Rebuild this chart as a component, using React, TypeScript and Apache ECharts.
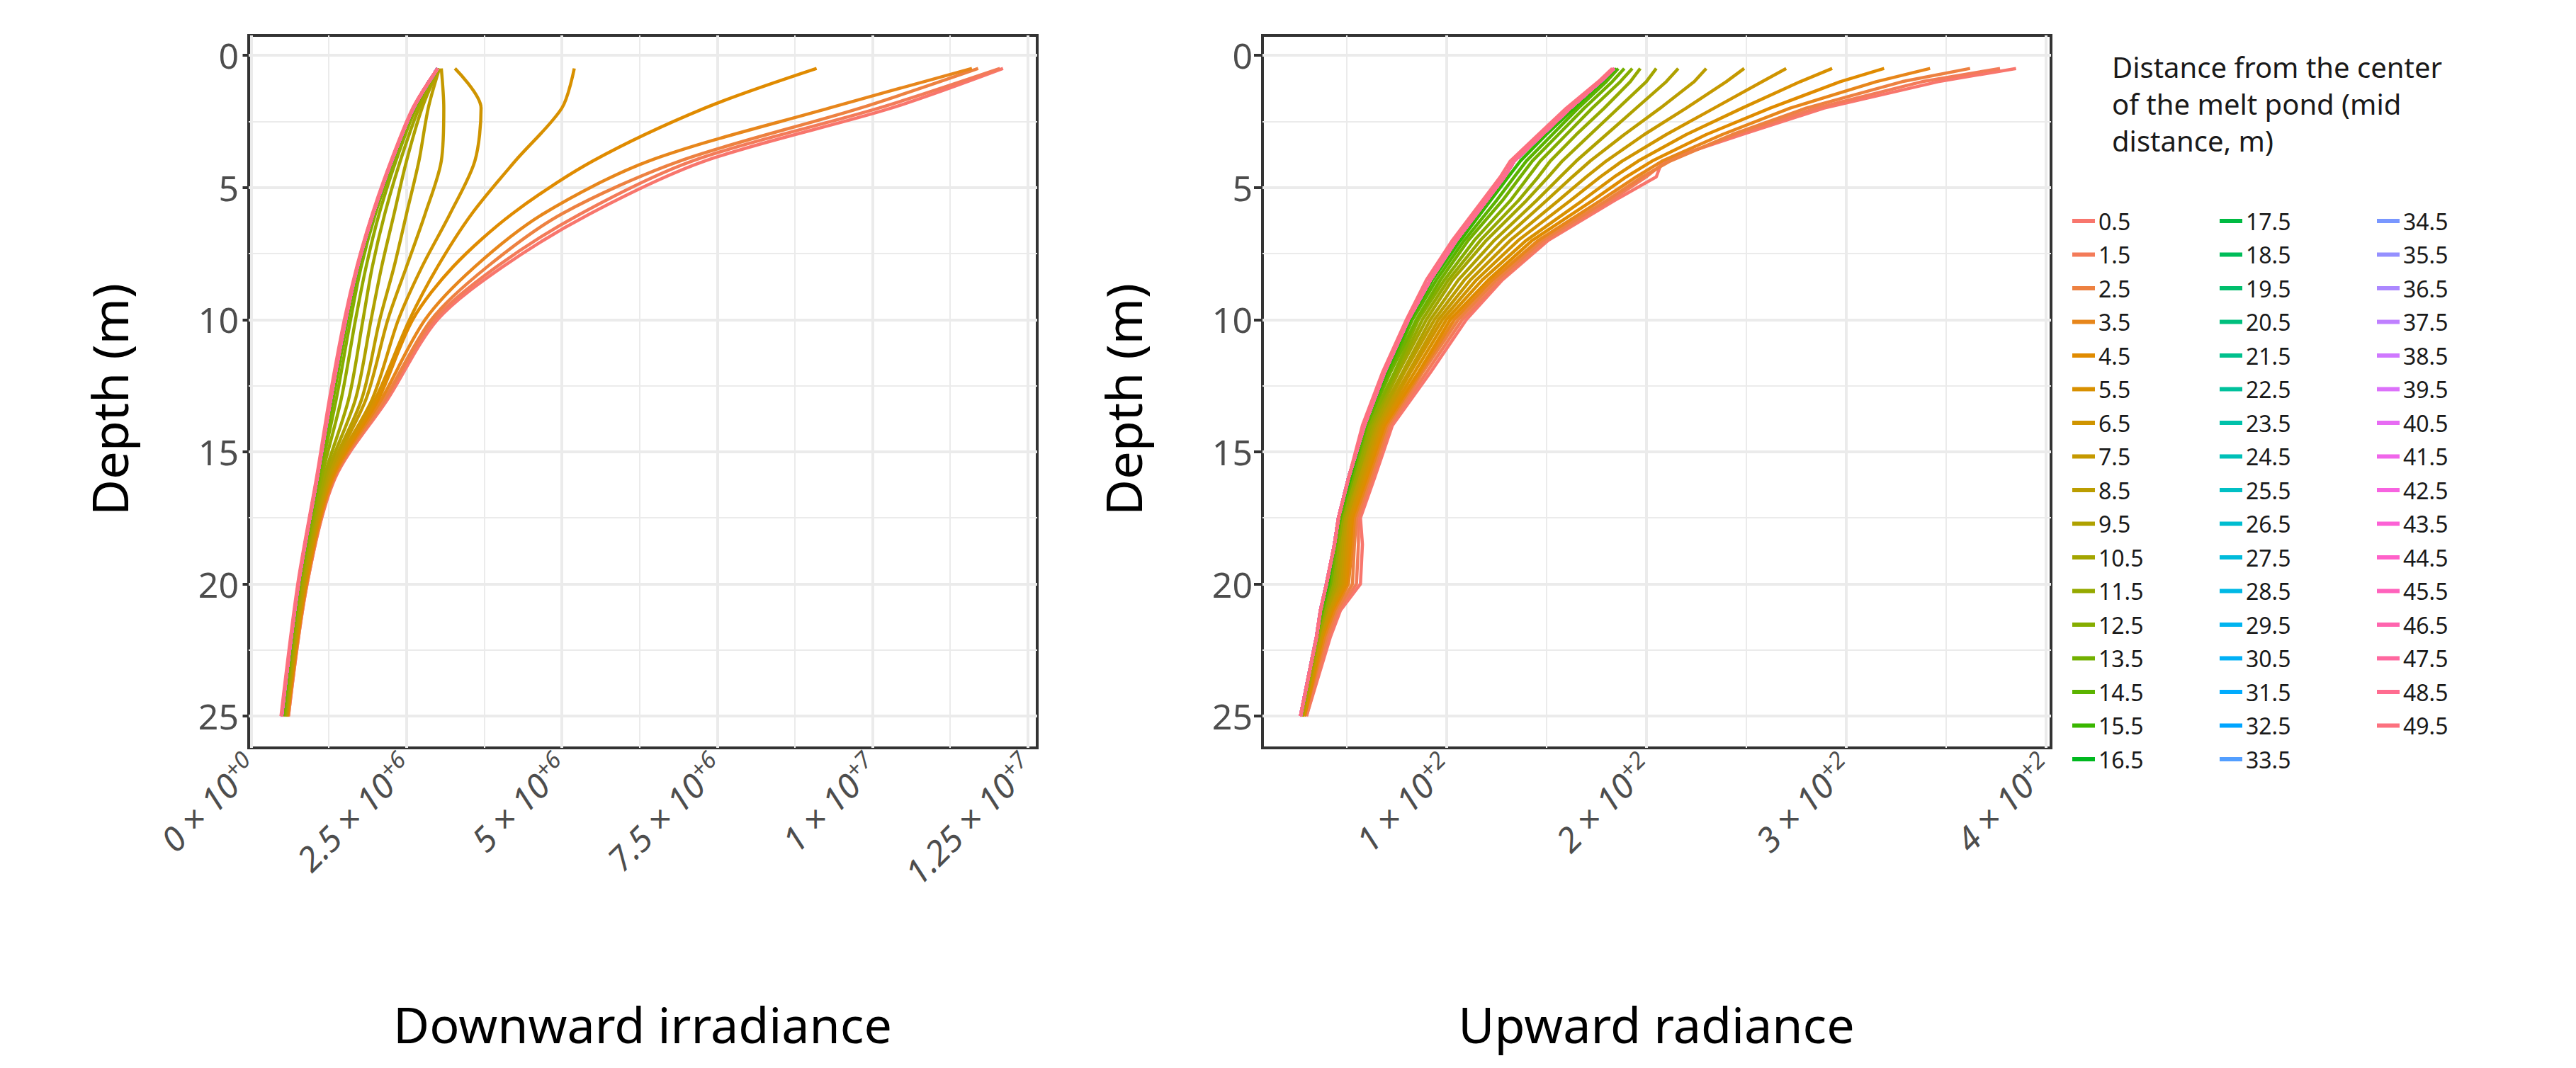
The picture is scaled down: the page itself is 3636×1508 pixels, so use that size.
import React, { useEffect, useRef } from "react";
import * as echarts from "echarts";

const DEPTHS_DOWN = [0.5, 2, 4, 6, 8, 10, 13, 16, 20, 25];
const DEPTHS_UP = [0.5, 1, 2, 3, 4, 4.6, 5.5, 7, 8.5, 10, 12, 14, 16, 17.5, 18.5, 20, 21, 22, 25];
const DISTANCES = Array.from({ length: 50 }, (_, i) => (i + 0.5).toFixed(1));

// Downward irradiance (units of 1e6)
const DOWN_0_5 = [12.1, 10.3, 7.3, 5.45, 4.05, 3.0, 2.2, 1.35, 0.9, 0.6];
const DOWN_1_5 = [12.05, 10.1, 7.1, 5.3, 3.95, 2.95, 2.17, 1.34, 0.9, 0.6];
const DOWN_2_5 = [11.7, 9.8, 6.9, 5.0, 3.8, 2.9, 2.15, 1.33, 0.89, 0.59];
const DOWN_3_5 = [11.6, 9.3, 6.4, 4.7, 3.6, 2.8, 2.1, 1.32, 0.89, 0.59];
const DOWN_4_5 = [9.1, 7.3, 5.5, 4.2, 3.25, 2.6, 2.05, 1.3, 0.88, 0.58];
const DOWN_5_5 = [5.2, 5.0, 4.25, 3.55, 3.0, 2.55, 2.0, 1.28, 0.87, 0.58];
const DOWN_6_5 = [3.28, 3.7, 3.6, 3.2, 2.75, 2.37, 1.95, 1.27, 0.86, 0.57];
const DOWN_7_5 = [3.06, 3.1, 3.06, 2.8, 2.5, 2.2, 1.85, 1.25, 0.85, 0.56];
const DOWN_8_5 = [3.03, 2.85, 2.7, 2.5, 2.3, 2.07, 1.78, 1.23, 0.84, 0.56];
const DOWN_9_5 = [3.02, 2.75, 2.5, 2.3, 2.1, 1.93, 1.68, 1.2, 0.82, 0.55];
const DOWN_10_5 = [3.01, 2.7, 2.4, 2.15, 1.95, 1.8, 1.57, 1.17, 0.8, 0.54];
const DOWN_11_5 = [3.0, 2.65, 2.33, 2.06, 1.85, 1.68, 1.45, 1.13, 0.79, 0.53];
const DOWN_12_5 = [3.0, 2.63, 2.29, 2.0, 1.77, 1.6, 1.37, 1.1, 0.78, 0.52];
const DOWN_13_5 = [3.0, 2.62, 2.27, 1.97, 1.73, 1.55, 1.32, 1.08, 0.77, 0.51];
const DOWN_REST = [3.0, 2.61, 2.26, 1.96, 1.71, 1.52, 1.28, 1.06, 0.76, 0.49];
const DOWN_49_5 = [3.0, 2.6, 2.25, 1.95, 1.7, 1.5, 1.26, 1.05, 0.75, 0.48];
const DOWN_LIST = [DOWN_0_5, DOWN_1_5, DOWN_2_5, DOWN_3_5, DOWN_4_5, DOWN_5_5, DOWN_6_5, DOWN_7_5, DOWN_8_5, DOWN_9_5, DOWN_10_5, DOWN_11_5, DOWN_12_5, DOWN_13_5];

// Upward radiance
const UP_0_5 = [385, 346, 289, 248, 208, 205, 184, 151, 128, 110, 92, 73, 64, 57, 58, 57, 47, 42, 30];
const UP_1_5 = [377, 338, 285, 245, 210, 200, 182, 150, 127, 108, 90, 72, 63, 56, 56, 55, 46, 41, 30];
const UP_2_5 = [362, 328, 280, 243, 212, 198, 180, 148, 125, 106, 88, 71, 62, 55, 54, 53, 45, 40, 29];
const UP_3_5 = [342, 315, 272, 238, 208, 195, 177, 146, 123, 104, 87, 70, 61, 54, 53, 51, 44, 39, 29];
const UP_4_5 = [319, 297, 262, 230, 203, 190, 173, 143, 121, 102, 86, 69, 60, 53, 52, 50, 43, 38, 29];
const UP_5_5 = [293, 277, 248, 220, 196, 184, 168, 140, 118, 100, 84, 68, 59, 52, 51, 49, 42, 38, 28];
const UP_6_5 = [270, 258, 234, 210, 188, 177, 162, 136, 115, 98, 82, 67, 58, 51, 50, 48, 42, 37, 28];
const UP_7_5 = [249, 240, 220, 199, 180, 170, 156, 132, 112, 96, 81, 66, 57, 50, 49, 47, 41, 37, 28];
const UP_8_5 = [230, 224, 207, 189, 172, 163, 150, 128, 109, 94, 79, 65, 56, 50, 48, 46, 40, 36, 28];
const UP_9_5 = [216, 210, 195, 180, 165, 157, 145, 124, 106, 92, 78, 64, 55, 49, 47, 45, 40, 36, 28];
const UP_10_5 = [205, 200, 186, 172, 158, 151, 140, 120, 103, 90, 76, 63, 55, 48, 46, 44, 39, 36, 27];
const UP_11_5 = [197, 192, 179, 165, 152, 146, 136, 117, 101, 88, 75, 62, 54, 48, 46, 43, 39, 35, 27];
const UP_12_5 = [193, 187, 173, 160, 147, 141, 132, 114, 99, 86, 74, 61, 53, 47, 45, 42, 38, 35, 27];
const UP_13_5 = [189, 183, 169, 156, 143, 137, 128, 111, 97, 85, 72, 60, 53, 47, 45, 42, 38, 35, 27];
const UP_14_5 = [186, 180, 166, 153, 140, 134, 125, 109, 95, 83, 71, 60, 52, 47, 44, 41, 38, 35, 27];
const UP_15_5 = [185, 178, 164, 150, 137, 131, 122, 107, 93, 82, 70, 59, 52, 46, 44, 41, 37, 35, 27];
const UP_REST = [184, 177, 162, 148, 134, 129, 120, 105, 92, 81, 69, 59, 51, 46, 44, 40, 37, 35, 27];
const UP_49_5 = [183, 176, 160, 146, 132, 127, 118, 103, 90, 80, 68, 58, 51, 46, 44, 40, 37, 35, 27];
const UP_LIST = [UP_0_5, UP_1_5, UP_2_5, UP_3_5, UP_4_5, UP_5_5, UP_6_5, UP_7_5, UP_8_5, UP_9_5, UP_10_5, UP_11_5, UP_12_5, UP_13_5, UP_14_5, UP_15_5];

const DOWN_TICKS = [0, 2.5, 5, 7.5, 10, 12.5];
const DOWN_LABELS = ["0 × 10|+0", "2.5 × 10|+6", "5 × 10|+6", "7.5 × 10|+6", "1 × 10|+7", "1.25 × 10|+7"];
const DOWN_MINOR = [1.25, 3.75, 6.25, 8.75, 11.25];
const UP_TICKS = [100, 200, 300, 400];
const UP_LABELS = ["1 × 10|+2", "2 × 10|+2", "3 × 10|+2", "4 × 10|+2"];
const UP_MINOR = [50, 150, 250, 350];
const DEPTH_TICKS = [0, 5, 10, 15, 20, 25];
const DEPTH_MINOR = [2.5, 7.5, 12.5, 17.5, 22.5];

function hcl(h: number, c = 100, l = 65) {
  const hr = (h * Math.PI) / 180;
  const U = c * Math.cos(hr), V = c * Math.sin(hr);
  const Xn = 95.047, Yn = 100, Zn = 108.883;
  const un = (4 * Xn) / (Xn + 15 * Yn + 3 * Zn), vn = (9 * Yn) / (Xn + 15 * Yn + 3 * Zn);
  const Y = Yn * Math.pow((l + 16) / 116, 3);
  const u = U / (13 * l) + un, v = V / (13 * l) + vn;
  const X = (9 * Y * u) / (4 * v);
  const Z = -X / 3 - 5 * Y + (3 * Y) / v;
  const x = X / 100, y = Y / 100, z = Z / 100;
  const lin = [
    3.2404542 * x - 1.5371385 * y - 0.4985314 * z,
    -0.969266 * x + 1.8760108 * y + 0.041556 * z,
    0.0556434 * x - 0.2040259 * y + 1.0572252 * z,
  ];
  const g = lin.map((t) => {
    const s = t <= 0.0031308 ? 12.92 * t : 1.055 * Math.pow(t, 1 / 2.4) - 0.055;
    return Math.round(Math.max(0, Math.min(1, s)) * 255);
  });
  return `rgb(${g[0]},${g[1]},${g[2]})`;
}
const COLORS = DISTANCES.map((_, i) => hcl(15 + (i * 360) / 50));

const FONT = "'Noto Sans', 'Open Sans', sans-serif";

function gridLines(idx: number, major: number[], minor: number[]) {
  const data: any[] = [];
  major.forEach((v) => data.push({ xAxis: v, lineStyle: { width: 4 } }));
  minor.forEach((v) => data.push({ xAxis: v, lineStyle: { width: 2 } }));
  DEPTH_TICKS.forEach((v) => data.push({ yAxis: v, lineStyle: { width: 4 } }));
  DEPTH_MINOR.forEach((v) => data.push({ yAxis: v, lineStyle: { width: 2 } }));
  return {
    type: "line", name: "_grid" + idx, xAxisIndex: idx, yAxisIndex: idx, data: [], silent: true, z: 0, zlevel: 0,
    markLine: { silent: true, symbol: ["none", "none"], label: { show: false }, lineStyle: { color: "#ebebeb", type: "solid" }, emphasis: { disabled: true }, data, animation: false },
  };
}

function xAxis(gridIndex: number, min: number, max: number, ticks: number[], labels: string[]) {
  return {
    type: "value", gridIndex, min, max,
    axisLine: { show: false },
    splitLine: { show: false },
    axisTick: { show: true, customValues: ticks, length: 12, lineStyle: { color: "#333", width: 4 } },
    axisLabel: {
      customValues: ticks, rotate: 45, margin: 18,
      formatter: (v: number) => {
        const s = labels[ticks.indexOf(v)] || "";
        const [a, b] = s.split("|");
        return `{a|${a}}{b|${b}}`;
      },
      rich: {
        a: { fontSize: 48, color: "#4d4d4d", fontFamily: FONT, fontStyle: "italic" },
        b: { fontSize: 33, color: "#4d4d4d", fontFamily: FONT, fontStyle: "italic", verticalAlign: "top", padding: [0, 0, 22, 0] },
      },
    },
  };
}
function yAxis(gridIndex: number) {
  return {
    type: "value", gridIndex, min: -0.75, max: 26.2, inverse: true,
    axisLine: { show: false }, splitLine: { show: false },
    axisTick: { show: true, customValues: DEPTH_TICKS, length: 12, lineStyle: { color: "#333", width: 4 } },
    axisLabel: { customValues: DEPTH_TICKS, fontSize: 50, color: "#4d4d4d", fontFamily: FONT, margin: 14 },
  };
}

export default function App() {
  const ref = useRef<HTMLDivElement>(null);
  useEffect(() => {
    const chart = echarts.init(ref.current!, undefined, { renderer: "svg" });
    const series: any[] = [gridLines(0, DOWN_TICKS, DOWN_MINOR), gridLines(1, UP_TICKS, UP_MINOR)];
    DISTANCES.forEach((name, i) => {
      const dv = i === 49 ? DOWN_49_5 : DOWN_LIST[i] || DOWN_REST;
      const uv = i === 49 ? UP_49_5 : UP_LIST[i] || UP_REST;
      const common = { type: "line", name, showSymbol: false, color: COLORS[i], lineStyle: { width: 4.5, color: COLORS[i] }, z: 2, zlevel: 1, emphasis: { disabled: true } };
      series.push({ ...common, smooth: 0.3, xAxisIndex: 0, yAxisIndex: 0, data: DEPTHS_DOWN.map((d, k) => [dv[k], d]) });
      series.push({ ...common, smooth: false, xAxisIndex: 1, yAxisIndex: 1, data: DEPTHS_UP.map((d, k) => [uv[k], d]) });
    });
    const legendBase = {
      orient: "vertical", icon: "rect", itemWidth: 32, itemHeight: 6, itemGap: 15.5,
      textStyle: { fontSize: 32, lineHeight: 32, color: "#1a1a1a", fontFamily: FONT }, selectedMode: false, top: 283,
    };
    chart.setOption({
      animation: false,
      backgroundColor: "#fff",
      grid: [
        { left: 343, top: 42, width: 1113, height: 1006, show: true, borderColor: "#333", borderWidth: 4, backgroundColor: "transparent" },
        { left: 1774, top: 42, width: 1113, height: 1006, show: true, borderColor: "#333", borderWidth: 4, backgroundColor: "transparent" },
      ],
      xAxis: [xAxis(0, -0.04, 12.65, DOWN_TICKS, DOWN_LABELS), xAxis(1, 8, 402.5, UP_TICKS, UP_LABELS)],
      yAxis: [yAxis(0), yAxis(1)],
      legend: [
        { ...legendBase, left: 2912, data: DISTANCES.slice(0, 17) },
        { ...legendBase, left: 3120, data: DISTANCES.slice(17, 34) },
        { ...legendBase, left: 3342, data: DISTANCES.slice(34) },
      ],
      graphic: [
        { type: "text", left: 2973, top: 60, style: { text: "Distance from the center\nof the melt pond (mid\ndistance, m)", fontSize: 40, lineHeight: 52, fill: "#1a1a1a", fontFamily: FONT } },
        { type: "text", x: 899, y: 1438, style: { text: "Downward irradiance", fontSize: 70, fill: "#000", fontFamily: FONT, align: "center", verticalAlign: "middle" } },
        { type: "text", x: 2330, y: 1438, style: { text: "Upward radiance", fontSize: 70, fill: "#000", fontFamily: FONT, align: "center", verticalAlign: "middle" } },
        { type: "text", x: 146, y: 556, rotation: Math.PI / 2, style: { text: "Depth (m)", fontSize: 70, fill: "#000", fontFamily: FONT, align: "center", verticalAlign: "middle" } },
        { type: "text", x: 1577, y: 556, rotation: Math.PI / 2, style: { text: "Depth (m)", fontSize: 70, fill: "#000", fontFamily: FONT, align: "center", verticalAlign: "middle" } },
      ],
      series,
    });
    return () => chart.dispose();
  }, []);
  return <div ref={ref} style={{ width: 3620, height: 1492 }} />;
}
